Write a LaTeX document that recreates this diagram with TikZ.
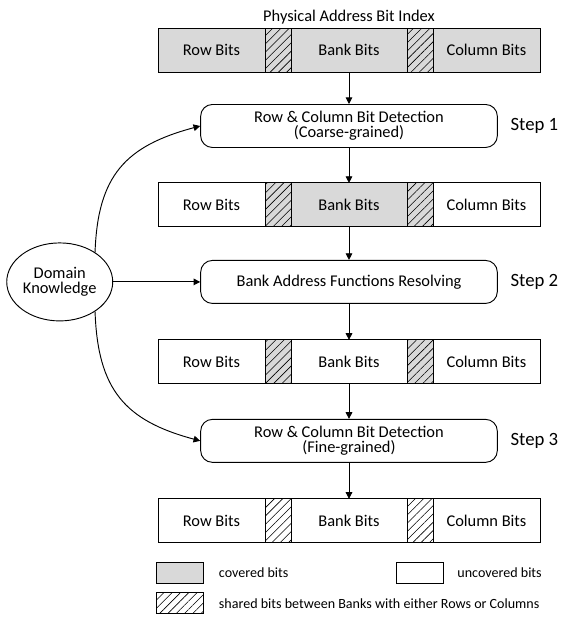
\documentclass[tikz,border=0pt]{standalone}
\usepackage{fontspec}
\setmainfont{Carlito}
\usetikzlibrary{arrows.meta,positioning,shapes.geometric,patterns.meta}
\definecolor{CoveredGray}{RGB}{217,217,217}
\tikzset{
  bitseg/.style={draw, line width=0.8pt, outer sep=0pt, minimum width=#1,
    minimum height=1.32cm, align=center, inner sep=0pt},
  bitseg/.default=3.21cm,
  covseg/.style={bitseg=#1, fill=CoveredGray},
  covseg/.default=3.21cm,
  hatchseg/.style={bitseg=0.78cm, pattern={Lines[angle=45, distance=5pt, line width=0.5pt]}},
  hatchcov/.style={hatchseg, preaction={fill=CoveredGray}},
  stepbox/.style={draw, line width=0.8pt, rounded corners=10pt, align=center,
    minimum width=8.9cm, minimum height=1.29cm, inner sep=2pt},
  steplabel/.style={font=\fontsize{16}{18}\selectfont},
  knowbox/.style={ellipse, draw, line width=0.8pt, align=center,
    minimum width=3.18cm, minimum height=2.34cm, inner sep=0pt},
  flowarr/.style={-{Triangle[length=2mm, width=2mm]}, line width=0.8pt},
  legbox/.style={draw, line width=0.8pt, minimum width=1.41cm, minimum height=0.63cm},
  legtext/.style={font=\fontsize{12}{14}\selectfont},
}

\begin{document}
\begin{tikzpicture}[every node/.style={font=\fontsize{14}{13}\selectfont}]
    \useasboundingbox (0,0) rectangle (17.16,-18.72);

    % fila 1: indice de bits fisicos
    \node[covseg=3.48cm] (bk1) at (10.47,-1.5) {Bank Bits};
    \node[hatchcov, left=0pt of bk1] (ha1) {};
    \node[covseg, left=0pt of ha1] (rw1) {Row Bits};
    \node[hatchcov, right=0pt of bk1] (hb1) {};
    \node[covseg, right=0pt of hb1] (cl1) {Column Bits};
    \node[above=0pt of bk1] (title) {Physical Address Bit Index};

    \node[stepbox, below=0.96cm of bk1] (s1) {Row \& Column Bit Detection\\(Coarse-grained)};
    \node[steplabel, right=0.26cm of s1] (st1) {Step 1};
    \draw[flowarr] (bk1.south) -- (s1.north);

    % fila 2
    \node[covseg=3.48cm, below=1.05cm of s1] (bk2) {Bank Bits};
    \node[hatchcov, left=0pt of bk2] (ha2) {};
    \node[bitseg, left=0pt of ha2] (rw2) {Row Bits};
    \node[hatchcov, right=0pt of bk2] (hb2) {};
    \node[bitseg, right=0pt of hb2] (cl2) {Column Bits};
    \draw[flowarr] (s1.south) -- (bk2.north);

    \node[stepbox, below=0.99cm of bk2] (s2) {Bank Address Functions Resolving};
    \node[steplabel, right=0.26cm of s2] (st2) {Step 2};
    \draw[flowarr] (bk2.south) -- (s2.north);

    % fila 3
    \node[bitseg=3.48cm, below=1.08cm of s2] (bk3) {Bank Bits};
    \node[hatchcov, left=0pt of bk3] (ha3) {};
    \node[bitseg, left=0pt of ha3] (rw3) {Row Bits};
    \node[hatchcov, right=0pt of bk3] (hb3) {};
    \node[bitseg, right=0pt of hb3] (cl3) {Column Bits};
    \draw[flowarr] (s2.south) -- (bk3.north);

    \node[stepbox, below=1.05cm of bk3] (s3) {Row \& Column Bit Detection\\(Fine-grained)};
    \node[steplabel, right=0.26cm of s3] (st3) {Step 3};
    \draw[flowarr] (bk3.south) -- (s3.north);

    % fila 4
    \node[bitseg=3.48cm, below=1.08cm of s3] (bk4) {Bank Bits};
    \node[hatchseg, left=0pt of bk4] (ha4) {};
    \node[bitseg, left=0pt of ha4] (rw4) {Row Bits};
    \node[hatchseg, right=0pt of bk4] (hb4) {};
    \node[bitseg, right=0pt of hb4] (cl4) {Column Bits};
    \draw[flowarr] (s3.south) -- (bk4.north);

    % conocimiento del dominio
    \node[knowbox, left=2.61cm of s2] (dk) {Domain\\Knowledge};
    \draw[flowarr] (dk) -- (s2);
    \draw[flowarr] (dk.40) to[out=88, in=195, looseness=1.2] (s1.west);
    \draw[flowarr] (dk.-40) to[out=-88, in=165, looseness=1.2] (s3.west);

    % leyenda
    \node[legbox, fill=CoveredGray] (lgcov) at (5.385,-17.175) {};
    \node[legtext, right=0.34cm of lgcov] (lgcovt) {covered bits};
    \node[legbox] (lgunc) at (12.6,-17.175) {};
    \node[legtext, right=0.28cm of lgunc] (lgunct) {uncovered bits};
    \node[legbox, pattern={Lines[angle=45, distance=5pt, line width=0.5pt]},
      below=0.27cm of lgcov] (lgsh) {};
    \node[legtext, right=0.34cm of lgsh] (lgsht) {shared bits between Banks with either Rows or Columns};
\end{tikzpicture}
\end{document}
